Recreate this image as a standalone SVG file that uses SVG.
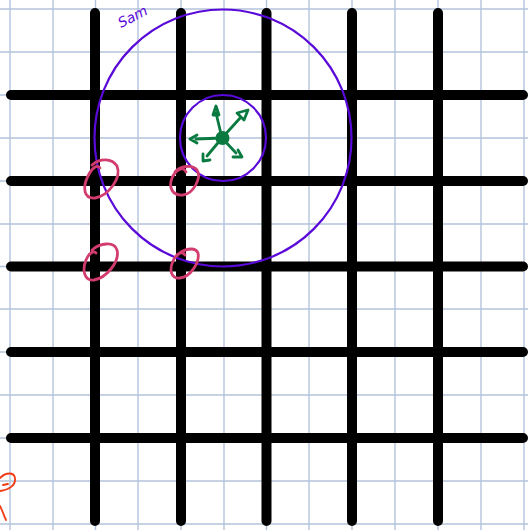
<svg xmlns="http://www.w3.org/2000/svg" width="528" height="530" viewBox="0 0 528 530">
<defs>
<style>
.g{stroke:#b4c3dc;stroke-width:1.4}
.b{stroke:#000;stroke-width:10;stroke-linecap:round}
.p{fill:none;stroke:#5a0ad8;stroke-width:2.2}
.r{fill:none;stroke:#d23c6e;stroke-width:2.8;stroke-linecap:round}
.gr{fill:none;stroke:#0a7a40;stroke-width:2.8;stroke-linecap:round;stroke-linejoin:round}
</style>
</defs>
<rect width="528" height="530" fill="#fff"/>
<g id="grid">
<path class="g" d="M10 0V530M53 0V530M95.5 0V530M138 0V530M181 0V530M224 0V530M266.5 0V530M309 0V530M352 0V530M395 0V530M438 0V530M481 0V530M524 0V530"/>
<path class="g" d="M0 9H528M0 52H528M0 95H528M0 138H528M0 181H528M0 224H528M0 266.5H528M0 309H528M0 352H528M0 395H528M0 438H528M0 481H528M0 524H528"/>
</g>
<g id="lines">
<path class="b" d="M95 13V521M181 13V521M266.5 13V521M352 13V521M438 13V521"/>
<path class="b" d="M11 95H523M11 181H523M11 266.5H523M11 352H523M11 438H523"/>
</g>
<g id="circles">
<circle class="p" cx="223" cy="138" r="128.5"/>
<circle class="p" cx="223" cy="138" r="43"/>
<text x="121" y="28" transform="rotate(-27 121 28)" font-family="DejaVu Sans, sans-serif" font-style="italic" font-size="14" fill="#5a0ad8">Sam</text>
</g>
<g id="arrows">
<circle cx="222.5" cy="138" r="7" fill="#0a7a40"/>
<path class="gr" d="M222 138L216 113M213 115L216 106L219 115Z"/>
<path class="gr" d="M222 138L241 117M237 113L248 110L244 120Z"/>
<path class="gr" d="M222 138L196 139M197 135L190 139L197 143"/>
<path class="gr" d="M222 138L207 156M203 154L203 161L210 160"/>
<path class="gr" d="M222 138L236 153M233 157L242 157L238 150"/>
</g>
<g id="marks">
<path class="r" d="M92 165C100 158 112 158 117 166C122 178 108 196 95 198C84 199 82 188 88 176C92 168 97 164 100 168"/>
<path class="r" d="M175 172C180 166 192 164 197 170C202 178 193 194 183 195C173 196 168 188 172 178C175 171 183 165 186 172"/>
<path class="r" d="M92 250C100 243 114 241 117 250C120 262 106 278 94 280C84 281 82 270 86 260C89 253 94 250 96 253"/>
<path class="r" d="M177 256C182 249 195 246 198 253C200 263 190 277 180 278C171 279 169 270 173 261C176 254 182 250 185 255"/>
<path d="M0 478C6 472 14 472 15 478C16 486 8 490 0 491M3 485L8 484M0 506C3 512 4 516 6 520" fill="none" stroke="#f03a14" stroke-width="1.8" stroke-linecap="round"/>
</g>
</svg>
